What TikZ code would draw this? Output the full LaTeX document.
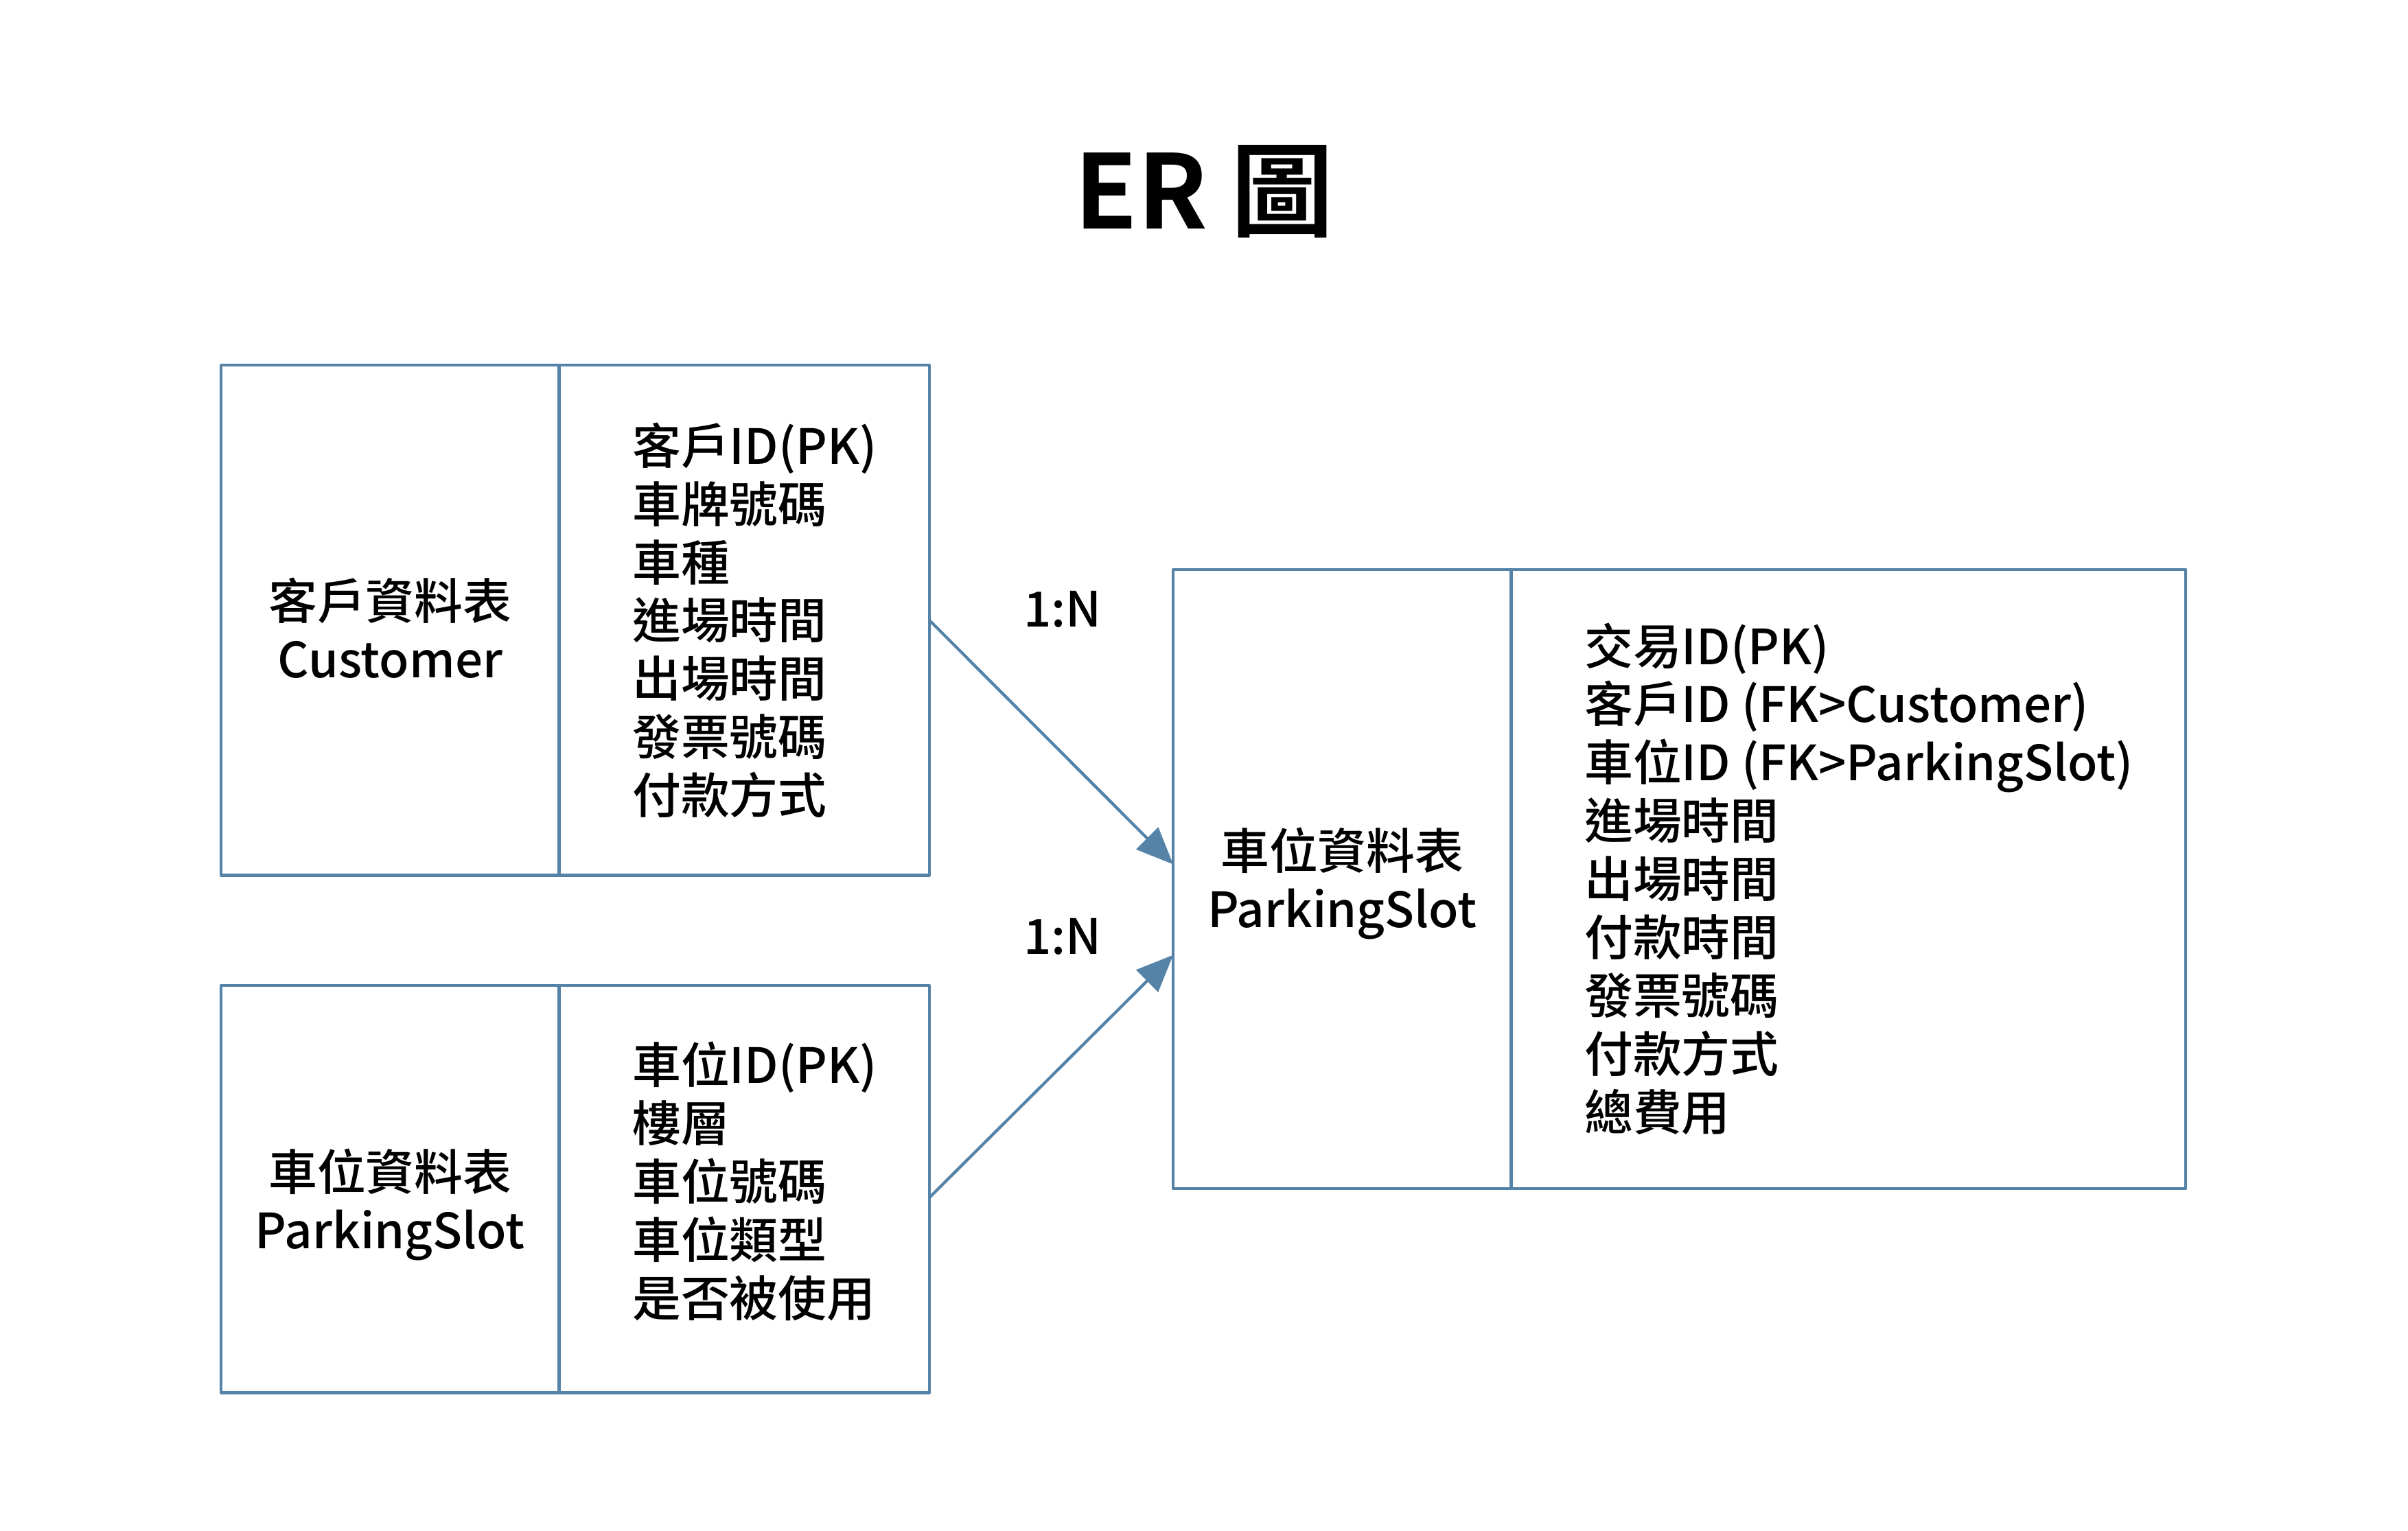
\documentclass[tikz,border=0pt]{standalone}
\usepackage{fontspec}
\usepackage{tikz}
\setmainfont{Noto Sans CJK TC Medium}[BoldFont={Noto Sans CJK TC Bold}]
\usetikzlibrary{positioning}
\usetikzlibrary{arrows.meta}
\definecolor{tblblue}{RGB}{85,131,168}
\newcommand{\fieldfont}{\fontsize{9}{10.8}\selectfont}
\tikzset{
  tblcell/.style={draw=tblblue,line width=0.55pt,inner sep=0pt,outer sep=0pt},
  tbltext/.style={font=\fieldfont,inner sep=0pt,align=center},
  fieldtext/.style={font=\fieldfont,inner sep=0pt,align=left,anchor=west},
  relabel/.style={font=\fieldfont,inner sep=0pt}
}

\begin{document}
\begin{tikzpicture}[line cap=round,line join=round,>={Triangle[length=2.4mm,width=2mm]},x=0.01cm,y=-0.01cm]
\useasboundingbox (0,0) rectangle (1568,997);
\node [font=\fontsize{19}{22}\selectfont\bfseries,inner sep=0pt] (title) at (784,125) {ER 圖};
\node [tblcell,minimum width=2.2cm,minimum height=3.32cm] (custname) at (254,404) {};
\node [tblcell,minimum width=2.41cm,minimum height=3.32cm,right=0pt of custname] (custfields) {};
\node [tblcell,minimum width=2.2cm,minimum height=2.65cm] (slotname) at (254,774.5) {};
\node [tblcell,minimum width=2.41cm,minimum height=2.65cm,right=0pt of slotname] (slotfields) {};
\node [tblcell,minimum width=2.2cm,minimum height=4.03cm] (parkname) at (874,572.5) {};
\node [tblcell,minimum width=4.39cm,minimum height=4.03cm,right=0pt of parkname] (parkfields) {};
\node [tbltext] (custtitle) at ([yshift=-0.05cm]custname.center) {客戶資料表\\Customer};
\node [tbltext] (slottitle) at ([yshift=-0.1cm]slotname.center) {車位資料表\\ParkingSlot};
\node [tbltext] (parktitle) at ([yshift=-0.03cm]parkname.center) {車位資料表\\ParkingSlot};
\node [fieldtext] (custlist) at ([xshift=0.47cm]custfields.west) {客戶ID(PK)\\車牌號碼\\車種\\進場時間\\出場時間\\發票號碼\\付款方式};
\node [fieldtext] (slotlist) at ([xshift=0.47cm,yshift=0.05cm]slotfields.west) {車位ID(PK)\\樓層\\車位號碼\\車位類型\\是否被使用};
\node [fieldtext] (parklist) at ([xshift=0.47cm]parkfields.west) {交易ID(PK)\\客戶ID (FK>Customer)\\車位ID (FK>ParkingSlot)\\進場時間\\出場時間\\付款時間\\發票號碼\\付款方式\\總費用};
\draw [->,line width=0.55pt,color=tblblue] (custfields.east) -- ([yshift=0.095cm]parkname.west);
\draw [->,line width=0.55pt,color=tblblue] ([yshift=-0.055cm]slotfields.east) -- ([yshift=-0.495cm]parkname.west);
\node [relabel] (custrel) at (692,397) {1:N};
\node [relabel] (slotrel) at (692,610) {1:N};
\end{tikzpicture}
\end{document}
